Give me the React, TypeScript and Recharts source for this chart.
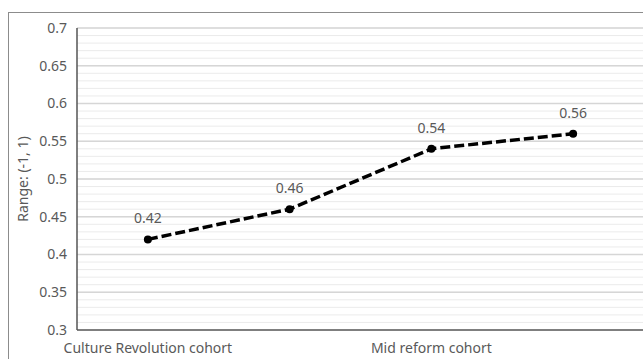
import { LineChart, Line, XAxis, YAxis, CartesianGrid, LabelList } from "recharts";

const cohorts = [
  "Culture Revolution cohort",
  "Early reform cohort",
  "Mid reform cohort",
  "Late reform cohort",
];
const rangeValues = [0.42, 0.46, 0.54, 0.56];
const majorTicks = [0.3, 0.35, 0.4, 0.45, 0.5, 0.55, 0.6, 0.65, 0.7];
// light gridlines every 0.01
const minorTicks = Array.from({ length: 41 }, (_, i) => Math.round((0.3 + i * 0.01) * 100) / 100);

const data = cohorts.map((name, i) => ({ name, value: rangeValues[i] }));

const font = "'Noto Sans', 'Open Sans', sans-serif";
const textColor = "#595959";
const fontSize = 14;

export default function App() {
  return (
    <div style={{ position: "absolute", left: 0, top: 0, width: 643, height: 359, overflow: "hidden", background: "#fff" }}>
      <div
        style={{
          position: "absolute",
          left: 8,
          top: 12,
          width: 700,
          height: 400,
          border: "1px solid #8c8c8c",
          boxSizing: "border-box",
        }}
      />
      <div style={{ position: "absolute", left: 0, top: 0 }}>
        <LineChart
          width={650}
          height={359}
          data={data}
          margin={{ top: 28, right: 6, left: 0, bottom: 0 }}
          style={{ fontFamily: font }}
        >
          <CartesianGrid
            yAxisId="main"
            vertical={false}
            horizontalValues={minorTicks}
            stroke="#ebebeb"
            strokeWidth={1}
          />
          <CartesianGrid
            yAxisId="main"
            vertical={false}
            horizontalValues={majorTicks}
            stroke="#d6d6d6"
            strokeWidth={1.3}
          />
          <XAxis
            dataKey="name"
            scale="band"
            interval={1}
            height={29}
            tickLine={false}
            tickMargin={7}
            axisLine={{ stroke: "#7f7f7f", strokeWidth: 2 }}
            tick={{ fill: textColor, fontSize }}
          />
          <YAxis
            yAxisId="main"
            width={77}
            domain={[0.3, 0.7]}
            ticks={majorTicks}
            interval={0}
            tickLine={false}
            tickMargin={4}
            axisLine={{ stroke: "#555", strokeWidth: 1.5 }}
            tick={{ fill: textColor, fontSize }}
            label={{
              value: "Range: (-1, 1)",
              angle: -90,
              position: "insideLeft",
              offset: 23,
              fill: textColor,
              fontSize,
              style: { textAnchor: "middle" },
            }}
          />
          <Line
            yAxisId="main"
            type="linear"
            dataKey="value"
            stroke="#000"
            strokeWidth={3.5}
            strokeDasharray="10 4"
            dot={{ r: 4, fill: "#000", stroke: "#000", strokeWidth: 0 }}
            isAnimationActive={false}
          >
            <LabelList dataKey="value" position="top" offset={16} fill={textColor} fontSize={fontSize} />
          </Line>
        </LineChart>
      </div>
    </div>
  );
}
